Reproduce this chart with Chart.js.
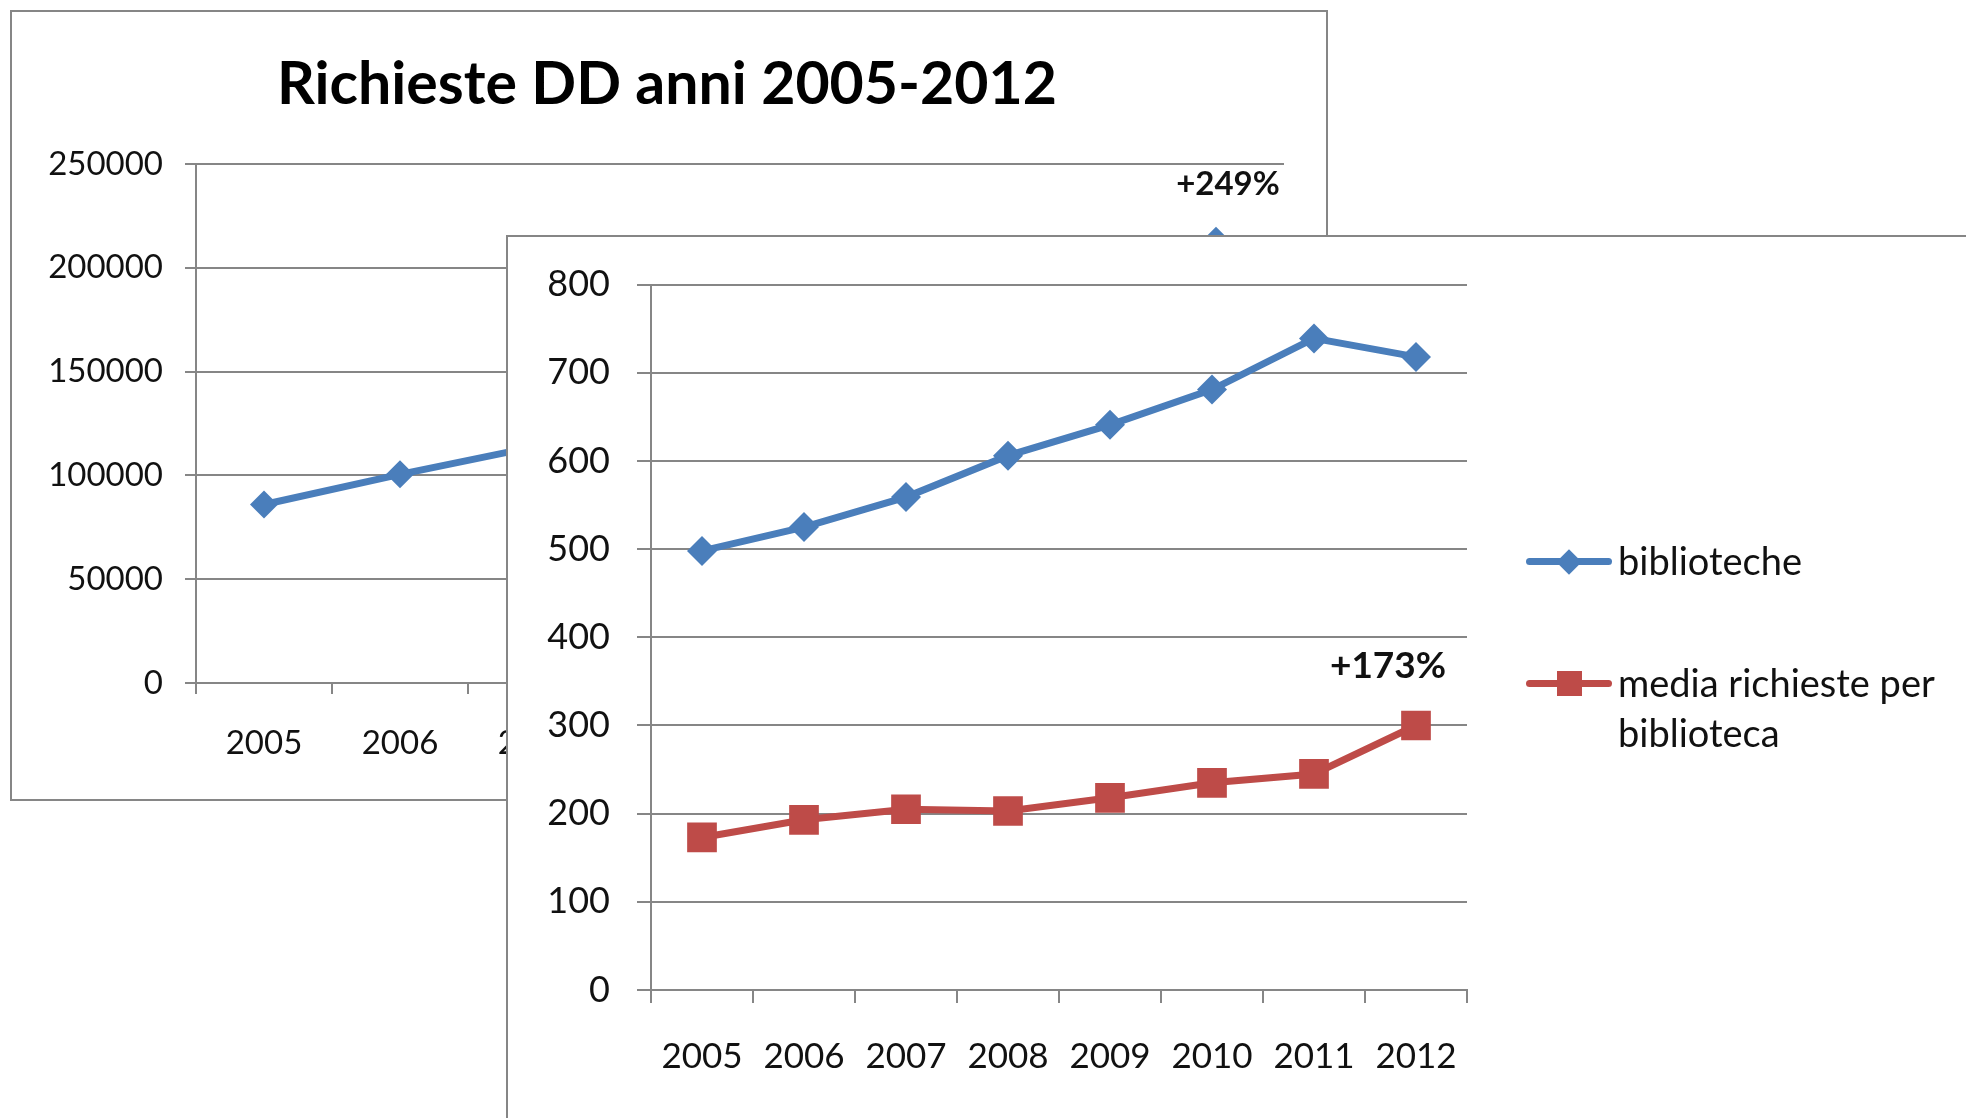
<!DOCTYPE html>
<html><head><meta charset="utf-8">
<script src="https://cdn.jsdelivr.net/npm/chart.js@4.4.0/dist/chart.umd.min.js"></script>
<style>
html,body{margin:0;padding:0;width:1966px;height:1118px;overflow:hidden;background:#fff;font-family:Lato,"Open Sans",sans-serif;}
.abs{position:absolute;}
#backBorder{left:10px;top:10px;width:1318px;height:791px;border:2px solid #868686;box-sizing:border-box;background:#fff;z-index:1;}
#backWrap{left:11px;top:11px;width:1316px;height:789px;z-index:2;}
#title{left:167px;width:1000px;top:45px;height:74px;line-height:74px;text-align:center;font-size:59px;font-weight:bold;color:#000;z-index:3;white-space:nowrap;}
#frontBox{left:506px;top:235px;width:1600px;height:1000px;border:2px solid #868686;box-sizing:border-box;background:#fff;z-index:4;}
#frontWrap{left:507px;top:236px;width:1459px;height:900px;z-index:5;}
.lline{height:7px;border-radius:3.5px;z-index:6;}
.ltext{font-size:38px;line-height:50px;color:#111;z-index:6;white-space:nowrap;}
</style></head>
<body>
<div id="backBorder" class="abs"></div>
<div id="backWrap" class="abs"><canvas id="cBack"></canvas></div>
<div id="title" class="abs">Richieste DD anni 2005-2012</div>
<div id="frontBox" class="abs"></div>
<div id="frontWrap" class="abs"><canvas id="cFront"></canvas></div>

<div class="abs lline" style="left:1526px;top:558px;width:86px;background:#4A7EBB"></div>
<div class="abs" style="left:1560px;top:553px;width:18px;height:18px;background:#4A7EBB;transform:rotate(45deg);z-index:7"></div>
<div class="abs ltext" id="leg1" style="left:1618px;top:535px"></div>

<div class="abs lline" style="left:1526px;top:680px;width:86px;background:#BE4B48"></div>
<div class="abs" style="left:1557px;top:671px;width:25px;height:25px;background:#BE4B48;z-index:7"></div>
<div class="abs ltext" id="leg2" style="left:1618px;top:657px"></div>

<script>
// ---- data ----
const years = ['2005','2006','2007','2008','2009','2010','2011','2012'];
const richieste = [86000, 100500, 114000, 122000, 138500, 158500, 180500, 213000];
const biblioteche = [498, 525, 559, 606, 641, 681, 739, 718];
const mediaRichieste = [173, 193, 205, 203, 218, 235, 245, 300];
const backTicks = [0, 50000, 100000, 150000, 200000, 250000];
const frontTicks = [0, 100, 200, 300, 400, 500, 600, 700, 800];
const seriesNames = ['biblioteche', 'media richieste per', 'biblioteca'];
const annotTexts = ['+249%', '+173%'];

document.getElementById('leg1').textContent = seriesNames[0];
document.getElementById('leg2').innerHTML = seriesNames[1] + '<br>' + seriesNames[2];

const GRID = '#868686';
const TXT = '#111';
const FONT = 'Lato';

const annotPlugin = {
  id: 'annot',
  afterDatasetsDraw(chart, args, opts) {
    const ctx = chart.ctx;
    (opts.items || []).forEach(it => {
      const pt = chart.getDatasetMeta(it.dataset).data[it.index];
      ctx.save();
      ctx.font = opts.font;
      ctx.fillStyle = '#111';
      ctx.textAlign = 'center';
      ctx.textBaseline = 'middle';
      ctx.fillText(it.text, pt.x + it.dx, pt.y + it.dy);
      ctx.restore();
    });
  }
};

function fixedTicks(list) {
  return function(scale) { scale.ticks = list.map(v => ({value: v})); };
}
const plain = v => String(v);

// ---- back chart ----
new Chart(document.getElementById('cBack'), {
  type: 'line',
  data: {
    labels: years,
    datasets: [{
      label: 'richieste',
      data: richieste,
      borderColor: '#4A7EBB', backgroundColor: '#4A7EBB',
      borderWidth: 7, tension: 0, fill: false,
      pointStyle: 'rectRot', pointRadius: 14, pointHoverRadius: 14, pointBorderWidth: 0
    }]
  },
  options: {
    responsive: true, maintainAspectRatio: false, animation: false,
    layout: {padding: {left: 0, right: 43, top: 153, bottom: 0}},
    plugins: {
      legend: {display: false}, tooltip: {enabled: false}, title: {display: false},
      annot: {font: 'bold 33px Lato', items: [{dataset: 0, index: 7, text: annotTexts[0], dx: 12, dy: -56}]}
    },
    scales: {
      x: {
        type: 'category', offset: true,
        grid: {offset: true, drawOnChartArea: false, drawTicks: true, tickLength: 11, color: GRID, lineWidth: 2},
        border: {display: true, color: GRID, width: 2},
        ticks: {font: {family: FONT, size: 33}, color: TXT, padding: 30, maxRotation: 0, autoSkip: false},
        afterFit(s) { s.height = 117; }
      },
      y: {
        min: 0, max: 250000,
        afterBuildTicks: fixedTicks(backTicks),
        grid: {color: GRID, lineWidth: 2, tickLength: 11, drawTicks: true},
        border: {display: true, color: GRID, width: 2},
        ticks: {font: {family: FONT, size: 33}, color: TXT, padding: 22, callback: plain},
        afterFit(s) { s.width = 185; }
      }
    }
  },
  plugins: [annotPlugin]
});

// ---- front chart ----
new Chart(document.getElementById('cFront'), {
  type: 'line',
  data: {
    labels: years,
    datasets: [{
      label: seriesNames[0],
      data: biblioteche,
      borderColor: '#4A7EBB', backgroundColor: '#4A7EBB',
      borderWidth: 7, tension: 0, fill: false,
      pointStyle: 'rectRot', pointRadius: 15, pointHoverRadius: 15, pointBorderWidth: 0
    }, {
      label: seriesNames[1] + ' ' + seriesNames[2],
      data: mediaRichieste,
      borderColor: '#BE4B48', backgroundColor: '#BE4B48',
      borderWidth: 7, tension: 0, fill: false,
      pointStyle: 'rect', pointRadius: 21, pointHoverRadius: 21, pointBorderWidth: 0
    }]
  },
  options: {
    responsive: true, maintainAspectRatio: false, animation: false,
    layout: {padding: {left: 0, right: 499, top: 47, bottom: 0}},
    plugins: {
      legend: {display: false}, tooltip: {enabled: false}, title: {display: false},
      annot: {font: 'bold 37px Lato', items: [{dataset: 1, index: 7, text: annotTexts[1], dx: -28, dy: -59}]}
    },
    scales: {
      x: {
        type: 'category', offset: true,
        grid: {offset: true, drawOnChartArea: false, drawTicks: true, tickLength: 13, color: GRID, lineWidth: 2},
        border: {display: true, color: GRID, width: 2},
        ticks: {font: {family: FONT, size: 35}, color: TXT, padding: 33, maxRotation: 0, autoSkip: false},
        afterFit(s) { s.height = 146; }
      },
      y: {
        min: 0, max: 800,
        afterBuildTicks: fixedTicks(frontTicks),
        grid: {color: GRID, lineWidth: 2, tickLength: 14, drawTicks: true},
        border: {display: true, color: GRID, width: 2},
        ticks: {font: {family: FONT, size: 36}, color: TXT, padding: 27, callback: plain},
        afterFit(s) { s.width = 144; }
      }
    }
  },
  plugins: [annotPlugin]
});
</script>
</body></html>
